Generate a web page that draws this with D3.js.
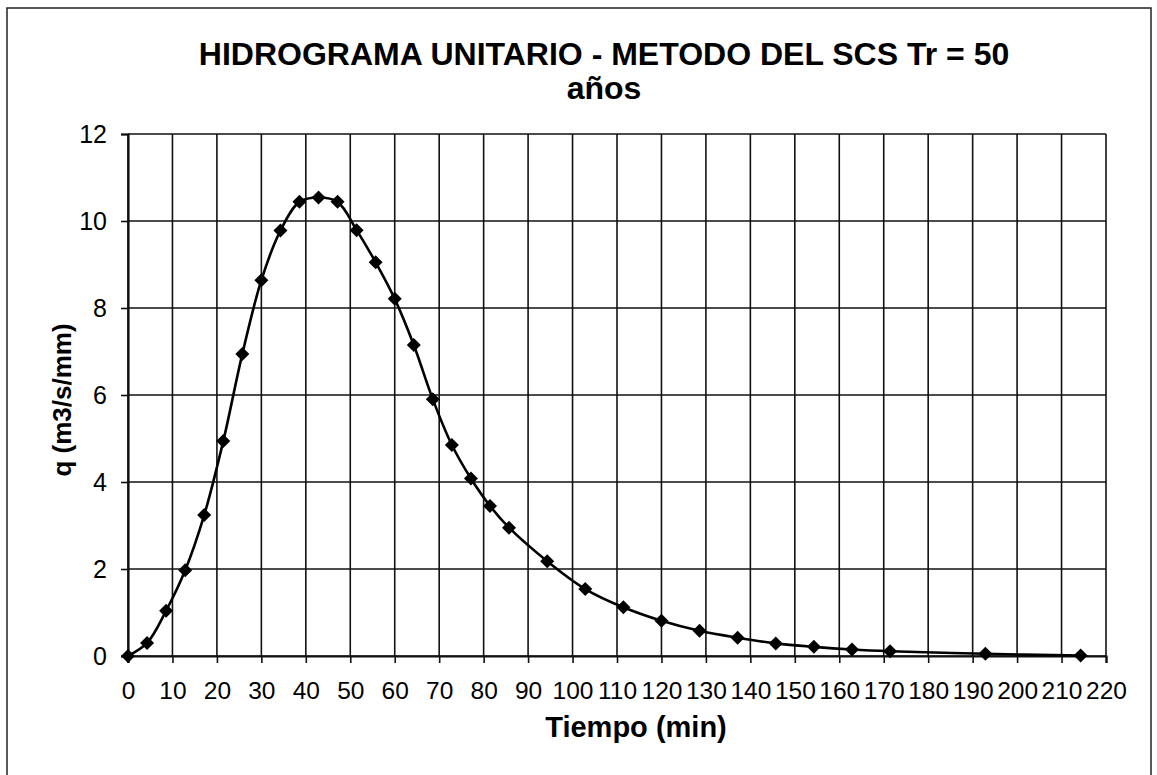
<!DOCTYPE html>
<html>
<head>
<meta charset="utf-8">
<script src="https://cdn.jsdelivr.net/npm/d3@7"></script>
<style>
  body { margin: 0; background: #fff; }
  svg { display: block; font-family: 'Liberation Sans', Arial, sans-serif; }
  .tick text { fill: #000; }
  .grid line { stroke: #111; stroke-width: 1.6; }
</style>
</head>
<body>
<div id="chart"></div>
<script>
// Hidrograma unitario - SCS, Tr = 50 años

// Data
var tiempo = [0, 4.29, 8.57, 12.86, 17.14, 21.43, 25.71, 30, 34.29, 38.57, 42.86, 47.14, 51.43, 55.71, 60, 64.29, 68.57, 72.86, 77.14, 81.43, 85.71, 94.29, 102.86, 111.43, 120, 128.57, 137.14, 145.71, 154.29, 162.86, 171.43, 192.86, 214.29]
var caudal = [0, 0.30, 1.04, 1.97, 3.24, 4.94, 6.94, 8.64, 9.78, 10.44, 10.54, 10.44, 9.79, 9.05, 8.21, 7.15, 5.90, 4.85, 4.08, 3.45, 2.95, 2.18, 1.54, 1.12, 0.81, 0.58, 0.42, 0.29, 0.21, 0.15, 0.11, 0.05, 0.01]
var xTicks = [0, 10, 20, 30, 40, 50, 60, 70, 80, 90, 100, 110, 120, 130, 140, 150, 160, 170, 180, 190, 200, 210, 220]
var yTicks = [0, 2, 4, 6, 8, 10, 12]
var titleLines = ['HIDROGRAMA UNITARIO - METODO DEL SCS Tr = 50', 'años']

var width = 1157
var height = 775
var plot = { left: 128, right: 1106, top: 134, bottom: 656 }

var svg = d3.select('#chart')
  .append('svg')
  .attr('width', width)
  .attr('height', height)

// outer frame
svg.append('rect')
  .attr('x', 7)
  .attr('y', 8)
  .attr('width', 1144)
  .attr('height', 790)
  .attr('fill', '#fff')
  .attr('stroke', '#222')
  .attr('stroke-width', 1.5)

// scales
var xScale = d3.scaleLinear()
  .domain([0, 220])
  .range([plot.left, plot.right])

var yScale = d3.scaleLinear()
  .domain([0, 12])
  .range([plot.bottom, plot.top])

// gridlines
svg.append('g')
  .attr('class', 'grid')
  .selectAll('line')
  .data(xTicks)
  .enter()
  .append('line')
  .attr('x1', d => xScale(d))
  .attr('x2', d => xScale(d))
  .attr('y1', plot.top)
  .attr('y2', plot.bottom)

svg.append('g')
  .attr('class', 'grid')
  .selectAll('line')
  .data(yTicks)
  .enter()
  .append('line')
  .attr('x1', plot.left)
  .attr('x2', plot.right)
  .attr('y1', d => yScale(d))
  .attr('y2', d => yScale(d))

// axes
var xAxis = d3.axisBottom(xScale)
  .tickValues(xTicks)
  .tickSize(7)
  .tickPadding(19)

var yAxis = d3.axisLeft(yScale)
  .tickValues(yTicks)
  .tickSize(7)
  .tickPadding(14)

svg.append('g')
  .attr('transform', `translate(0, ${plot.bottom})`)
  .call(xAxis)
  .call(g => g.selectAll('.tick text').style('font-size', '24.5px'))
  .call(g => g.select('.domain').attr('stroke', '#111').attr('stroke-width', 2.2))
  .call(g => g.selectAll('.tick line').attr('stroke', '#111').attr('stroke-width', 1.6))

svg.append('g')
  .attr('transform', `translate(${plot.left}, 0)`)
  .call(yAxis)
  .call(g => g.selectAll('.tick text').style('font-size', '25px'))
  .call(g => g.select('.domain').attr('stroke', '#111').attr('stroke-width', 2.2))
  .call(g => g.selectAll('.tick line').attr('stroke', '#111').attr('stroke-width', 1.6))

// curve
var points = tiempo.map((t, i) => ({ t: t, q: caudal[i] }))

var line = d3.line()
  .x(d => xScale(d.t))
  .y(d => yScale(d.q))
  .curve(d3.curveCatmullRom)

svg.append('path')
  .datum(points)
  .attr('d', line)
  .attr('fill', 'none')
  .attr('stroke', '#000')
  .attr('stroke-width', 2.6)

// diamond markers
svg.selectAll('.marker')
  .data(points)
  .enter()
  .append('path')
  .attr('class', 'marker')
  .attr('d', d3.symbol().type(d3.symbolSquare).size(98))
  .attr('transform', d => `translate(${xScale(d.t)}, ${yScale(d.q)}) rotate(45)`)
  .attr('fill', '#000')

// titles
svg.append('text')
  .selectAll('tspan')
  .data(titleLines)
  .enter()
  .append('tspan')
  .attr('x', 604)
  .attr('y', (d, i) => 65 + i * 34)
  .attr('text-anchor', 'middle')
  .style('font-size', '32px')
  .style('font-weight', 'bold')
  .text(d => d)

svg.append('text')
  .attr('x', 636)
  .attr('y', 737)
  .attr('text-anchor', 'middle')
  .style('font-size', '29px')
  .style('font-weight', 'bold')
  .text('Tiempo (min)')

svg.append('text')
  .attr('transform', 'translate(71, 400) rotate(-90)')
  .attr('text-anchor', 'middle')
  .style('font-size', '26px')
  .style('font-weight', 'bold')
  .text('q (m3/s/mm)')
</script>
</body>
</html>
